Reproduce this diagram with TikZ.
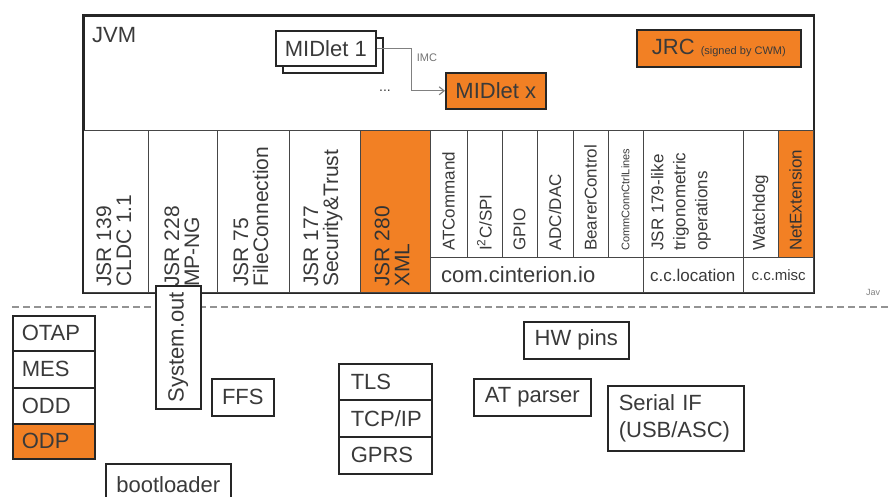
\documentclass[tikz,border=0pt]{standalone}
\usepackage{fontspec}
\setmainfont{Liberation Sans}
\usetikzlibrary{arrows.meta}
\definecolor{org}{RGB}{242,128,36}
\definecolor{txt}{RGB}{58,58,58}
\definecolor{edge}{RGB}{38,38,38}
\definecolor{cedge}{RGB}{70,70,70}
\newcommand\szL{\fontsize{22}{24}\selectfont}
\newcommand\szJ{\fontsize{21}{20}\selectfont}
\newcommand\szM{\fontsize{17}{22}\selectfont}
\newcommand\szS{\fontsize{11}{12}\selectfont}
\begin{document}
\begin{tikzpicture}[x=1pt,y=-1pt,
  box/.style={draw=edge, line width=1.6pt, fill=white, inner sep=0pt, anchor=north west, rectangle, text=txt, font=\szL},
  obox/.style={box, fill=org},
  cellbox/.style={draw=cedge, line width=1.3pt, fill=white, inner sep=0pt, anchor=north west, rectangle},
  ocellbox/.style={cellbox, fill=org},
  vtext/.style={rotate=90, anchor=west, inner sep=0pt, align=left, text=txt},
  jsrtext/.style={vtext, font=\szJ},
  iotext/.style={vtext, font=\szM},
  ltext/.style={align=left, text=txt, font=\szL}
]
\useasboundingbox (0,0) rectangle (890,497);

% ---------- JVM box ----------
\node[box, minimum width=730pt, minimum height=277pt] (jvm) at (83,15) {};
\node[anchor=base west, inner sep=0pt, text=txt, font=\szL] (jvmlbl) at (92,43) {JVM};

\node[box, minimum width=100pt, minimum height=35pt] (m1s) at (282,37) {};
\node[box, minimum width=100pt, minimum height=35pt] (m1) at (275,30) {MIDlet 1};
\node[obox, minimum width=100pt, minimum height=36pt] (mx) at (445,72) {MIDlet x};
\draw[draw=gray, line width=1.1pt, -{Straight Barb[length=5pt,width=8pt]}] (m1.east) -- ++(35,0) |- (mx.west);
\node[inner sep=0pt, text=gray!90!black, font=\szS] (imc) at (427,58) {IMC};
\node[inner sep=0pt, text=txt, font=\fontsize{14}{14}\selectfont] (dots) at (385,91) {...};
\node[obox, minimum width=164pt, minimum height=37pt] (jrc) at (636,29) {JRC {\fontsize{11}{11}\selectfont (signed by CWM)}};

% ---------- API columns ----------
\node[cellbox, minimum width=65pt, minimum height=162pt] (c1) at (83,130) {};
\node[cellbox, minimum width=69pt, minimum height=162pt] (c2) at (148,130) {};
\node[cellbox, minimum width=72pt, minimum height=162pt] (c3) at (217,130) {};
\node[cellbox, minimum width=71pt, minimum height=162pt] (c4) at (289,130) {};
\node[ocellbox, minimum width=70pt, minimum height=162pt] (c5) at (360,130) {};
\node[cellbox, minimum width=37pt, minimum height=127pt] (io1) at (430,130) {};
\node[cellbox, minimum width=35pt, minimum height=127pt] (io2) at (467,130) {};
\node[cellbox, minimum width=35pt, minimum height=127pt] (io3) at (502,130) {};
\node[cellbox, minimum width=36pt, minimum height=127pt] (io4) at (537,130) {};
\node[cellbox, minimum width=35pt, minimum height=127pt] (io5) at (573,130) {};
\node[cellbox, minimum width=35pt, minimum height=127pt] (io6) at (608,130) {};
\node[cellbox, minimum width=213pt, minimum height=35pt] (iobar) at (430,257) {};
\node[cellbox, minimum width=100pt, minimum height=127pt] (loc) at (643,130) {};
\node[cellbox, minimum width=100pt, minimum height=35pt] (locbar) at (643,257) {};
\node[cellbox, minimum width=35pt, minimum height=127pt] (wd) at (743,130) {};
\node[ocellbox, minimum width=35pt, minimum height=127pt] (net) at (778,130) {};
\node[cellbox, minimum width=70pt, minimum height=35pt] (miscbar) at (743,257) {};
\draw[draw=edge, line width=1.6pt] (jvm.north west) rectangle (jvm.south east);

\node[jsrtext] (t1) at (114,287) {JSR 139\\CLDC 1.1};
\node[jsrtext] (t2) at (182,287) {JSR 228\\MP-NG};
\node[jsrtext] (t3) at (251,287) {JSR 75\\FileConnection};
\node[jsrtext] (t4) at (323,287) {JSR 177\\Security\&Trust};
\node[jsrtext, text=black!80] (t5) at (392,287) {JSR 280\\XML};
\node[iotext] (ti1) at (448.5,251) {ATCommand};
\node[iotext] (ti2) at (484.5,251) {I\textsuperscript{2}C/SPI};
\node[iotext] (ti3) at (519.5,251) {GPIO};
\node[iotext] (ti4) at (555,251) {ADC/DAC};
\node[iotext] (ti5) at (590.5,251) {BearerControl};
\node[vtext, font=\szS] (ti6) at (625.5,251) {CommConnCtrlLines};
\node[iotext] (tloc) at (681,251) {JSR 179-like\\trigonometric\\operations};
\node[iotext] (twd) at (760.5,251) {Watchdog};
\node[iotext, text=black!80] (tnet) at (795.5,251) {NetExtension};
\node[anchor=west, inner sep=0pt, text=txt, font=\szL] (tio) at (441,275) {com.cinterion.io};
\node[anchor=west, inner sep=0pt, text=txt, font=\fontsize{17}{17}\selectfont] (tlocb) at (650,275) {c.c.location};
\node[anchor=center, inner sep=0pt, text=txt, font=\fontsize{15}{15}\selectfont] (tmisc) at (miscbar.center) {c.c.misc};
\node[anchor=west, inner sep=0pt, text=gray, font=\fontsize{9}{9}\selectfont] (jav) at (866,292) {Jav};

% ---------- separator ----------
\coordinate (dl) at (12,307);
\coordinate (dr) at (890,307);
\draw[draw=gray!85, line width=1.3pt, dash pattern=on 7pt off 4pt] (dl) -- (dr);

% ---------- native layer ----------
\node[box, minimum width=45pt, minimum height=123pt] (sysout) at (155,285) {};
\node[rotate=90, inner sep=0pt, text=txt, font=\szL] (tsys) at (sysout.center) {System.out};

\node[box, minimum height=35pt, text width=64pt, inner xsep=9pt, align=left] (otap) at (12,315) {OTAP};
\node[box, minimum height=37pt, text width=64pt, inner xsep=9pt, align=left] (mes) at (12,350) {MES};
\node[box, minimum height=36pt, text width=64pt, inner xsep=9pt, align=left] (odd) at (12,387) {ODD};
\node[obox, minimum height=35pt, text width=64pt, inner xsep=9pt, align=left] (odp) at (12,423) {ODP};

\node[box, minimum width=62pt, minimum height=37pt] (ffs) at (211,378) {FFS};
\node[box, minimum width=125pt, minimum height=42pt] (boot) at (105,463) {bootloader};

\node[box, minimum height=36pt, text width=69pt, inner xsep=12pt, align=left] (tls) at (338,363) {TLS};
\node[box, minimum height=37pt, text width=69pt, inner xsep=12pt, align=left] (tcp) at (338,399) {TCP/IP};
\node[box, minimum height=37pt, text width=69pt, inner xsep=12pt, align=left] (gprs) at (338,436) {GPRS};

\node[box, minimum width=105pt, minimum height=37pt] (hw) at (523,321) {HW pins};
\node[box, minimum width=117pt, minimum height=37pt] (atp) at (473,378) {AT parser};
\node[box, minimum height=65pt, text width=114pt, inner xsep=11pt, align=left, font=\fontsize{22}{27}\selectfont] (serial) at (607,385) {Serial IF\\(USB/ASC)};
\end{tikzpicture}
\end{document}
